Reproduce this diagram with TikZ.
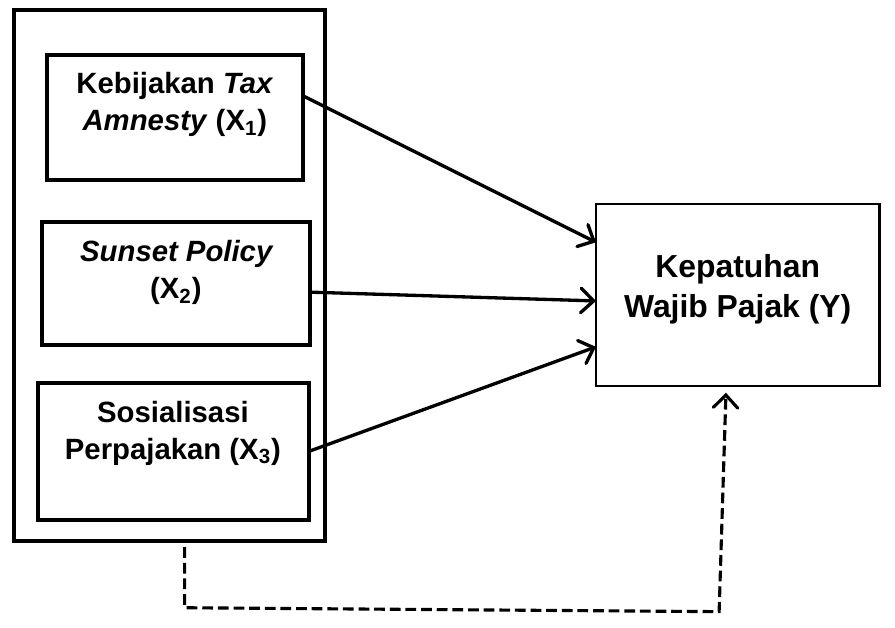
\documentclass[tikz,border=0pt]{standalone}
\usepackage{fontspec}
\setmainfont{Liberation Sans}
\usetikzlibrary{arrows.meta,calc}
\begin{document}
\begin{tikzpicture}[x=0.5pt,y=-0.5pt,
  outerbox/.style={draw,line width=2pt,rectangle,outer sep=0pt,inner sep=0pt,anchor=north west},
  varbox/.style={draw,line width=1.9pt,rectangle,outer sep=0pt,inner sep=0pt,anchor=north west},
  ybox/.style={draw,line width=1.2pt,rectangle,outer sep=0pt,inner sep=0pt,anchor=north west},
  ltxt/.style={inner sep=0pt,anchor=base,font=\fontsize{15pt}{19pt}\selectfont\bfseries},
  ytxt/.style={inner sep=0pt,anchor=base,font=\fontsize{16.3pt}{20.5pt}\selectfont\bfseries},
  arr/.style={line width=1.7pt,-{Straight Barb[length=6.5pt,width=12.5pt,line width=1.7pt,line cap=round]}},
  dasharr/.style={line width=1.6pt,dash pattern=on 5.5pt off 2.5pt,line join=miter,-{Straight Barb[length=6.5pt,width=12.5pt,line width=1.6pt,line cap=round]}}
]
\useasboundingbox[fill=white] (0,0) rectangle (916,642);
% boxes
\node[outerbox,minimum width=159.5pt,minimum height=272pt] (outer) at (14,10) {};
\node[varbox,minimum width=131pt,minimum height=64pt] (x1) at (48,56) {};
\node[varbox,minimum width=137pt,minimum height=63pt] (x2) at (43,227) {};
\node[varbox,minimum width=138.5pt,minimum height=70pt] (x3) at (39,392) {};
\node[ybox,minimum width=145pt,minimum height=93pt] (y) at (610,209) {};
% texts
\node[ltxt] (t1a) at (179,96) {Kebijakan \textit{Tax}};
\node[ltxt] (t1b) at (179,134) {\textit{Amnesty} (X\textsubscript{1})};
\node[ltxt] (t2a) at (181,268) {\textit{Sunset Policy}};
\node[ltxt] (t2b) at (180,306) {(X\textsubscript{2})};
\node[ltxt] (t3a) at (177,432) {Sosialisasi};
\node[ltxt] (t3b) at (177,470) {Perpajakan (X\textsubscript{3})};
\node[ytxt] (ya) at (755,284) {Kepatuhan};
\node[ytxt] (yb) at (755,325) {Wajib Pajak (Y)};
% arrows
\draw[arr] (x1.east |- 0,98) -- (y.west |- 0,248);
\draw[arr] (x2.east |- 0,299) -- (y.west |- 0,308);
\draw[arr] (x3.east |- 0,462) -- (y.west |- 0,355);
% dashed
\coordinate (d1) at (189,622);
\coordinate (d2) at (736,626);
\draw[dasharr] ($(outer.south -| 189,0)+(0,6)$) -- (d1) -- (d2) -- ($(y.south -| 743,0)+(0,7)$);
\end{tikzpicture}
\end{document}
